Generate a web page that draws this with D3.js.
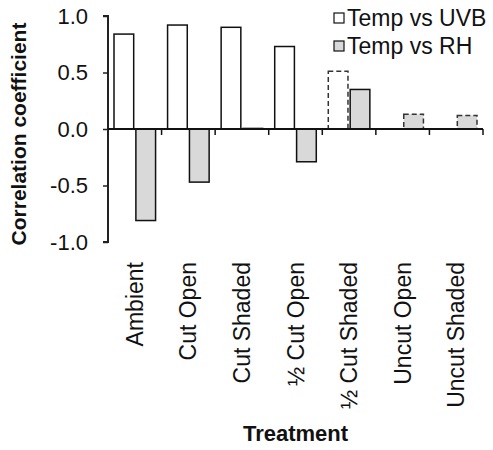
<!DOCTYPE html>
<html>
<head>
<meta charset="utf-8">
<script src="https://cdn.jsdelivr.net/npm/d3@7"></script>
<style>
  body { margin: 0; background: #fff; }
  text { font-family: Arial, "Liberation Sans", sans-serif; }
</style>
</head>
<body>
<div class="container"></div>
<script>
const categories = ["Ambient", "Cut Open", "Cut Shaded", "½ Cut Open", "½ Cut Shaded", "Uncut Open", "Uncut Shaded"];
const seriesNames = ["Temp vs UVB", "Temp vs RH"];
const uvbValues = [0.84, 0.92, 0.90, 0.73, 0.51, null, null];
const rhValues = [-0.81, -0.47, 0.005, -0.29, 0.35, 0.13, 0.12];
// false = not significant, drawn with a dashed outline
const uvbSignificant = [true, true, true, true, false, true, true];
const rhSignificant = [true, true, true, true, true, false, false];
const yTicks = [-1.0, -0.5, 0.0, 0.5, 1.0];

const W = 493, H = 450;
const margin = {top: 16, right: 10, bottom: 208, left: 108};
const width = W - margin.left - margin.right,
      height = H - margin.top - margin.bottom;

const svg = d3.select(".container")
  .append("svg")
  .attr("width", W)
  .attr("height", H);

const chart = svg.append("g")
  .attr("transform", "translate(" + margin.left + "," + margin.top + ")");

const yScale = d3.scaleLinear().domain([-1, 1]).range([height, 0]);
const xScale = d3.scaleBand().domain(categories).range([0, width]);
const xInner = d3.scaleBand().domain(seriesNames).range([6, xScale.bandwidth() - 6]).paddingInner(0.1);

const data = [];
categories.forEach(function(c, i) {
  if (uvbValues[i] !== null) data.push({cat: c, series: seriesNames[0], value: uvbValues[i], sig: uvbSignificant[i]});
  if (rhValues[i] !== null) data.push({cat: c, series: seriesNames[1], value: rhValues[i], sig: rhSignificant[i]});
});

const fills = {"Temp vs UVB": "#ffffff", "Temp vs RH": "#d9d9d9"};

chart.selectAll(".bar")
  .data(data)
  .enter()
  .append("rect")
  .attr("class", "bar")
  .attr("x", function(d){ return xScale(d.cat) + xInner(d.series); })
  .attr("y", function(d){ return yScale(Math.max(0, d.value)); })
  .attr("width", xInner.bandwidth())
  .attr("height", function(d){ return Math.abs(yScale(d.value) - yScale(0)); })
  .attr("fill", function(d){ return fills[d.series]; })
  .attr("stroke", function(d){ return d.sig ? "#111" : "#333"; })
  .attr("stroke-width", 1.5)
  .attr("stroke-dasharray", function(d){ return d.sig ? null : "5,3"; });

// y axis
const yAxis = chart.append("g")
  .call(d3.axisLeft(yScale).tickValues(yTicks).tickSize(5).tickPadding(15).tickFormat(d3.format(".1f")));
yAxis.select(".domain").attr("stroke", "#222").attr("stroke-width", 2).attr("d", "M-5," + yScale(1) + "H0V" + yScale(-1) + "H-5");
yAxis.selectAll(".tick line").attr("stroke", "#222").attr("stroke-width", 1.5);
yAxis.selectAll(".tick text")
  .attr("font-size", "22px")
  .attr("fill", "#111")
  .text(function(d){ return d3.format(".1f")(d).replace("−", "-"); });

// x axis at zero, ticks at band boundaries
const xAxis = chart.append("g")
  .attr("transform", "translate(0," + yScale(0) + ")");
xAxis.append("line")
  .attr("x1", 0).attr("x2", width)
  .attr("stroke", "#111").attr("stroke-width", 2);
xAxis.selectAll(".xtick")
  .data(categories)
  .enter()
  .append("line")
  .attr("class", "xtick")
  .attr("x1", function(d){ return xScale(d) + xScale.bandwidth(); })
  .attr("x2", function(d){ return xScale(d) + xScale.bandwidth(); })
  .attr("y1", 0).attr("y2", 6)
  .attr("stroke", "#111").attr("stroke-width", 1.5);

// category labels
chart.selectAll(".xlabel")
  .data(categories)
  .enter()
  .append("text")
  .attr("class", "xlabel")
  .attr("transform", function(d){ return "translate(" + (xScale(d) + xScale.bandwidth() / 2) + "," + (height + 20) + ") rotate(-90)"; })
  .attr("text-anchor", "end")
  .attr("dy", "0.35em")
  .attr("font-size", "23px")
  .attr("fill", "#111")
  .text(function(d){ return d; });

// axis titles
svg.append("text")
  .attr("transform", "translate(19," + (margin.top + height / 2 + 5) + ") rotate(-90)")
  .attr("text-anchor", "middle")
  .attr("dy", "0.35em")
  .attr("font-size", "21px")
  .attr("font-weight", "bold")
  .attr("fill", "#111")
  .text("Correlation coefficient");

svg.append("text")
  .attr("x", margin.left + width / 2)
  .attr("y", 441)
  .attr("text-anchor", "middle")
  .attr("font-size", "22px")
  .attr("font-weight", "bold")
  .attr("fill", "#111")
  .text("Treatment");

// legend
const legend = svg.append("g").attr("transform", "translate(334,13)");
const rows = legend.selectAll(".row")
  .data(seriesNames)
  .enter()
  .append("g")
  .attr("class", "row")
  .attr("transform", function(d, i){ return "translate(0," + (i * 28) + ")"; });
rows.append("rect")
  .attr("width", 10).attr("height", 10)
  .attr("fill", function(d){ return fills[d]; })
  .attr("stroke", "#111").attr("stroke-width", 1.2);
rows.append("text")
  .attr("x", 13)
  .attr("y", 5)
  .attr("dy", "0.35em")
  .attr("font-size", "23px")
  .attr("fill", "#111")
  .text(function(d){ return d; });
</script>
</body>
</html>
